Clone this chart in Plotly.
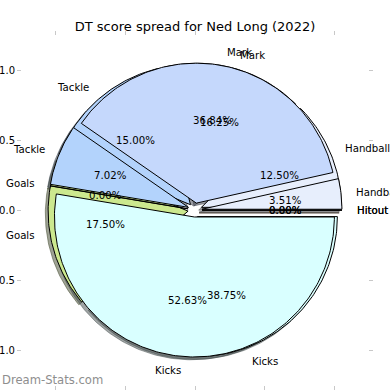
import numpy as np
import plotly.graph_objects as go

# ---- data -------------------------------------------------------------
labels = ["Hitout", "Handball", "Mark", "Tackle", "Goals", "Kicks"]
season_top = [0, 2, 21, 4, 0, 30]        # pie drawn on top  (52.63 / 36.84 / 7.02 / 3.51 %)
season_under = [0, 10, 13, 12, 14, 31]   # pie drawn beneath (38.75 / 16.25 / 15.00 / 17.50 / 12.50 %)
slice_colors = ["#fcdcb8", "#e7eefc", "#c5d8fc", "#b3d3fc", "#cce88e", "#d9ffff"]
tick_vals = [-1.0, -0.5, 0.0, 0.5, 1.0]
title_text = "DT score spread for Ned Long (2022)"
watermark = "Dream-Stats.com"

# ---- pie geometry settings (matplotlib-like) --------------------------
EXPLODE = 0.05
LABEL_DIST = 1.1
PCT_DIST = 0.6
SHADOW_OFF = 0.02
FONT = "DejaVu Sans"


def hex_rgb(h):
    h = h.lstrip("#")
    return [int(h[i:i + 2], 16) for i in (0, 2, 4)]


def build_wedges(values):
    total = float(sum(values))
    out = []
    start = 0.0
    for lab, v, col in zip(labels, values, slice_colors):
        span = 360.0 * v / total
        t1, t2 = start, start + span
        tm = np.deg2rad((t1 + t2) / 2.0)
        cx, cy = EXPLODE * np.cos(tm), EXPLODE * np.sin(tm)
        n = max(2, int(span) + 2)
        th = np.deg2rad(np.linspace(t1, t2, n))
        xs = np.concatenate([[cx], cx + np.cos(th), [cx]])
        ys = np.concatenate([[cy], cy + np.sin(th), [cy]])
        out.append(dict(label=lab, value=v, pct=100.0 * v / total, color=col,
                        xs=xs, ys=ys, tm=tm, cx=cx, cy=cy))
        start = t2
    return out


pies = [build_wedges(season_under), build_wedges(season_top)]

fig = go.Figure()

# shadows first (all of them sit below every wedge)
for pie in pies:
    for w in pie:
        r, g, b = [int(0.3 * c) for c in hex_rgb(w["color"])]
        sc = f"rgba({r},{g},{b},0.5)"
        fig.add_trace(go.Scatter(
            x=w["xs"] - SHADOW_OFF, y=w["ys"] - SHADOW_OFF, mode="lines",
            fill="toself", fillcolor=sc, line=dict(color=sc, width=1),
            hoverinfo="skip", showlegend=False))

# wedges
for pie in pies:
    for w in pie:
        fig.add_trace(go.Scatter(
            x=w["xs"], y=w["ys"], mode="lines", fill="toself",
            fillcolor=w["color"], line=dict(color="black", width=1),
            hoverinfo="skip", showlegend=False))

# texts
annotations = []
for pie in pies:
    for w in pie:
        lx = w["cx"] + LABEL_DIST * np.cos(w["tm"])
        ly = w["cy"] + LABEL_DIST * np.sin(w["tm"])
        annotations.append(dict(
            x=lx, y=ly, xref="x", yref="y", text=w["label"], showarrow=False,
            xanchor="left" if lx > 0 else "right", yanchor="middle",
            font=dict(family=FONT, size=10.2, color="black"), borderpad=0))
        px = w["cx"] + PCT_DIST * np.cos(w["tm"])
        py = w["cy"] + PCT_DIST * np.sin(w["tm"])
        annotations.append(dict(
            x=px, y=py, xref="x", yref="y", text=f"{w['pct']:.2f}%",
            showarrow=False, xanchor="center", yanchor="middle",
            font=dict(family=FONT, size=10.2, color="black"), borderpad=0))

annotations.append(dict(
    x=0, y=0, xref="paper", yref="paper", text=watermark, showarrow=False,
    xanchor="left", yanchor="bottom", xshift=-22, yshift=-4,
    font=dict(family=FONT, size=11.6, color="#8e8e8e")))

axis_common = dict(
    showgrid=False, zeroline=False, showline=False, ticks="outside",
    ticklen=4, tickwidth=1, tickcolor="#c8c8c8", mirror="ticks",
    tickvals=tick_vals, tickformat=".1f", automargin=False,
    tickfont=dict(family=FONT, size=10, color="black"))

fig.update_layout(
    width=390, height=390, autosize=False,
    margin=dict(l=22, r=22, t=36, b=5, pad=0),
    paper_bgcolor="white", plot_bgcolor="white",
    font=dict(family=FONT, size=10, color="black"),
    title=dict(text=title_text, x=0.5, xanchor="center", y=1 - 26 / 390,
               yanchor="middle", font=dict(family=FONT, size=13, color="black")),
    xaxis=dict(range=[-1.236, 1.236], **axis_common),
    yaxis=dict(range=[-1.25, 1.243], **axis_common),
    annotations=annotations,
    showlegend=False,
)

fig.write_html(
    "out.html",
    config={"displayModeBar": False},
    post_script="document.body.style.margin='0px';document.body.style.overflow='hidden';",
)
